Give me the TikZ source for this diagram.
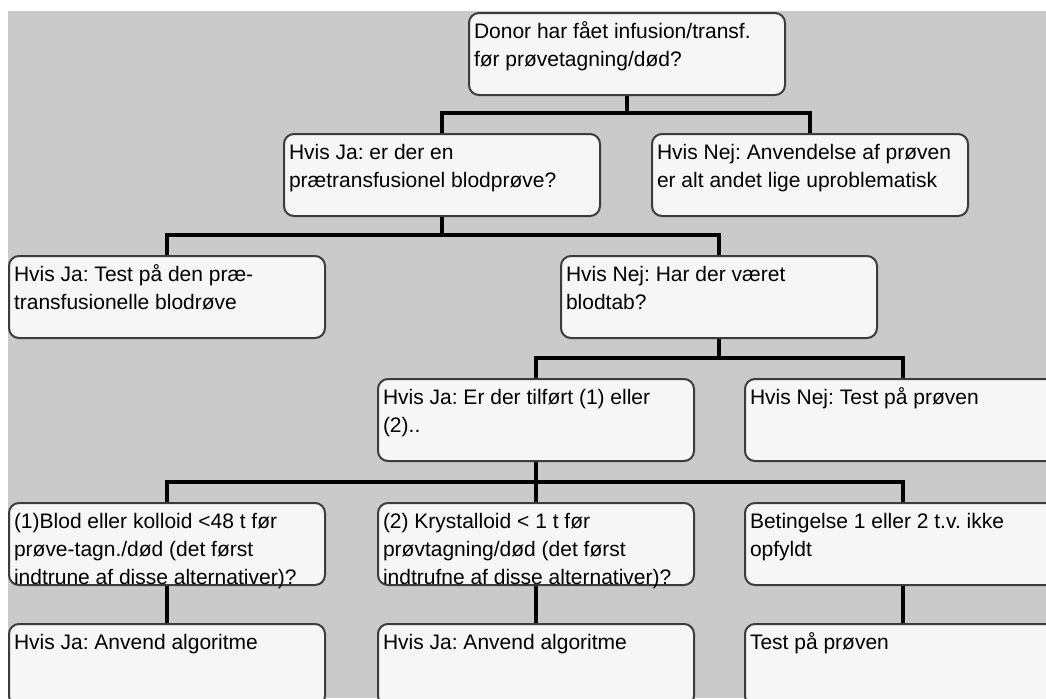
\documentclass[tikz,border=0pt]{standalone}
\usepackage{fontspec}
\setmainfont{Liberation Sans}
\usetikzlibrary{positioning}
\definecolor{backgray}{RGB}{202,202,202}
\definecolor{boxfill}{RGB}{246,246,246}
\definecolor{boxline}{RGB}{60,60,60}
\tikzset{
  qbox/.style={
    draw = boxline,
    line width = 1pt,
    fill = boxfill,
    rounded corners = 5pt,
    anchor = north west,
    inner xsep = 2.5pt,
    inner ysep = 0pt,
    minimum width = 158pt,
    minimum height = 41pt
  },
  link/.style={
    line width = 2pt,
    draw = black
  },
}
\frenchspacing
\newcommand{\qtext}[1]{\parbox[c][41pt][t]{153pt}{\raggedright\rule{0pt}{12.5pt}#1}}

\begin{document}
\begin{tikzpicture}[x=0.5pt,y=-0.5pt,font=\fontsize{10.5}{14}\selectfont]
\useasboundingbox (0,0) rectangle (1046,698);
\clip (0,0) rectangle (1046,698);
\fill[backgray] (8,11) rectangle (1046,698);
% buses between rows
\coordinate (bus1) at (0,112.5);
\coordinate (bus2) at (0,235);
\coordinate (bus3) at (0,358);
\coordinate (bus4) at (0,481.5);
% boxes
\path (468,12) node[qbox] (donor) {\qtext{Donor har fået infusion/transf.\\ før prøvetagning/død?}};
\path (283,133) node[qbox] (jaPre) {\qtext{Hvis Ja: er der en\\ prætransfusionel blodprøve?}};
\path (651,133) node[qbox] (nejUse) {\qtext{Hvis Nej: Anvendelse af prøven\\ er alt andet lige uproblematisk}};
\path (8,255) node[qbox] (jaTest) {\qtext{Hvis Ja: Test på den præ-\\ transfusionelle blodrøve}};
\path (560,255) node[qbox] (nejLoss) {\qtext{Hvis Nej: Har der været\\ blodtab?}};
\path (377,378) node[qbox] (jaAdded) {\qtext{Hvis Ja: Er der tilført (1) eller\\ (2)..}};
\path (744,378) node[qbox] (nejTest) {\qtext{Hvis Nej: Test på prøven}};
\path (8,502) node[qbox] (cond1) {\qtext{(1)Blod eller kolloid <48 t før\\ prøve-tagn./død (det først\\ indtrune af disse alternativer)?}};
\path (377,502) node[qbox] (cond2) {\qtext{(2) Krystalloid < 1 t før\\ prøvtagning/død (det først\\ indtrufne af disse alternativer)?}};
\path (744,502) node[qbox] (cond3) {\qtext{Betingelse 1 eller 2 t.v. ikke\\ opfyldt}};
\path (8,623) node[qbox] (algo1) {\qtext{Hvis Ja: Anvend algoritme}};
\path (377,623) node[qbox] (algo2) {\qtext{Hvis Ja: Anvend algoritme}};
\path (744,623) node[qbox] (testSample) {\qtext{Test på prøven}};
% connectors
\draw[link] (donor.south) -- (donor.south |- bus1);
\draw[link] (jaPre.north) |- (donor.south |- bus1) -| (nejUse.north);
\draw[link] (jaPre.south) -- (jaPre.south |- bus2);
\draw[link] (jaTest.north) |- (jaPre.south |- bus2) -| (nejLoss.north);
\draw[link] (nejLoss.south) -- (nejLoss.south |- bus3);
\draw[link] (jaAdded.north) |- (nejLoss.south |- bus3) -| (nejTest.north);
\draw[link] (jaAdded.south) -- (jaAdded.south |- bus4);
\draw[link] (cond1.north) |- (jaAdded.south |- bus4) -| (cond3.north);
\draw[link] (jaAdded.south |- bus4) -- (cond2.north);
\foreach \a/\b in {cond1/algo1,cond2/algo2,cond3/testSample}{
  \draw[link] (\a.south) -- (\b.north); }
\end{tikzpicture}
\end{document}
